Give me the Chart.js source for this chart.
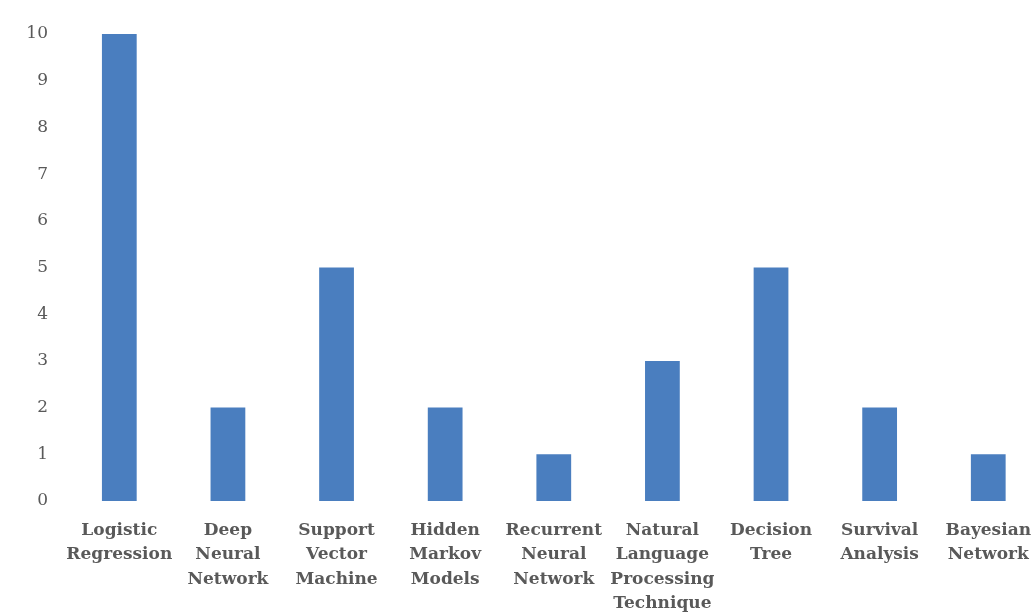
<!DOCTYPE html>
<html>
<head>
<meta charset="utf-8">
<script src="https://cdn.jsdelivr.net/npm/chart.js@4/dist/chart.umd.min.js"></script>
<style>
  html, body { margin: 0; padding: 0; background: #ffffff; overflow: hidden; }
  #wrap { width: 1048px; height: 630px; position: relative; }
</style>
</head>
<body>
<div id="wrap"><canvas id="algoChart" width="1048" height="630"></canvas></div>
<script>
// Chart data
const categories = [
    ['Logistic', 'Regression'],
    ['Deep', 'Neural', 'Network'],
    ['Support', 'Vector', 'Machine'],
    ['Hidden', 'Markov', 'Models'],
    ['Recurrent', 'Neural', 'Network'],
    ['Natural', 'Language', 'Processing', 'Technique'],
    ['Decision', 'Tree'],
    ['Survival', 'Analysis'],
    ['Bayesian', 'Network']
];
const counts = [10, 2, 5, 2, 1, 3, 5, 2, 1];
const yTicks = [0, 1, 2, 3, 4, 5, 6, 7, 8, 9, 10];

const textColor = '#595959';
const barColor = '#4a7ebf';

const ctx = document.getElementById('algoChart').getContext('2d');
new Chart(ctx, {
    type: 'bar',
    data: {
        labels: categories,
        datasets: [{
            data: counts,
            backgroundColor: barColor,
            barPercentage: 0.32,
            categoryPercentage: 1.0
        }]
    },
    options: {
        responsive: false,
        animation: false,
        layout: { padding: { top: 34, right: 0, left: 0, bottom: 0 } },
        plugins: {
            legend: { display: false },
            tooltip: { enabled: false }
        },
        scales: {
            x: {
                grid: { display: false, drawTicks: false },
                border: { display: false },
                ticks: {
                    color: textColor,
                    font: { family: 'DejaVu Serif', size: 17, weight: 'bold', lineHeight: 1.44 },
                    padding: 17,
                    maxRotation: 0,
                    autoSkip: false
                },
                afterFit: function(scale) { scale.height = 129; }
            },
            y: {
                min: 0,
                max: 10,
                grid: { display: false, drawTicks: false },
                border: { display: false },
                afterBuildTicks: function(scale) {
                    scale.ticks = yTicks.map(v => ({ value: v }));
                },
                ticks: {
                    color: textColor,
                    font: { family: 'DejaVu Serif', size: 17 },
                    padding: 17
                },
                afterFit: function(scale) { scale.width = 65; }
            }
        }
    }
});
</script>
</body>
</html>
